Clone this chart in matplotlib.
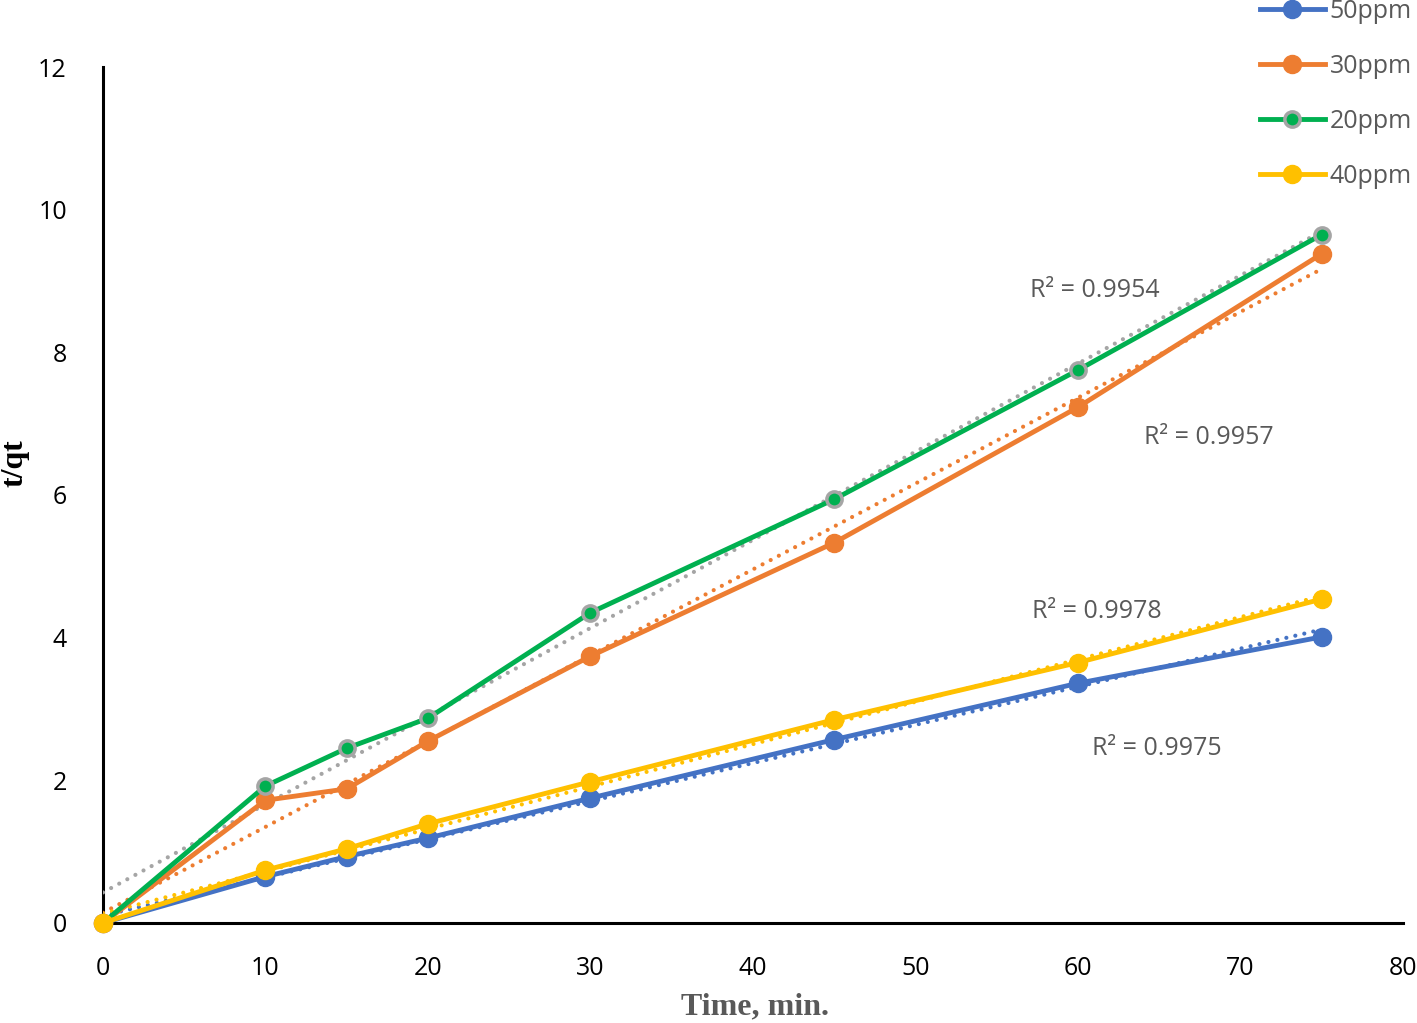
import numpy as np
import matplotlib.pyplot as plt

# Time (min)
time_min = [0, 10, 15, 20, 30, 45, 60, 75]

# t/qt values
tq_50 = [0, 0.65, 0.93, 1.19, 1.75, 2.57, 3.36, 4.01]
tq_30 = [0, 1.72, 1.88, 2.55, 3.74, 5.33, 7.23, 9.38]
tq_20 = [0, 1.92, 2.45, 2.87, 4.35, 5.94, 7.75, 9.65]
tq_40 = [0, 0.74, 1.04, 1.39, 1.98, 2.85, 3.65, 4.54]

r2_labels = ['R² = 0.9975', 'R² = 0.9957', 'R² = 0.9954', 'R² = 0.9978']

blue = '#4472C4'
orange = '#ED7D31'
green = '#00B050'
gray = '#A5A5A5'
yellow = '#FFC000'
text_gray = '#595959'

fig = plt.figure(figsize=(14.17, 10.23), dpi=100)
ax = fig.add_axes([0.0727, 0.0978, 0.9173, 0.8367])

x = np.array(time_min)

# dotted linear trendlines
def trend(y, color):
    k, b = np.polyfit(x, y, 1)
    xx = np.array([0, 75])
    ax.plot(xx, k * xx + b, linestyle=(0, (0.01, 2.2)), dash_capstyle='round',
            color=color, lw=3.0, zorder=3)

trend(tq_50, blue)
trend(tq_30, orange)
trend(tq_20, gray)
trend(tq_40, yellow)

ax.plot(x, tq_50, '-o', color=blue, lw=3.5, ms=13, label='50ppm', zorder=4, clip_on=False)
ax.plot(x, tq_30, '-o', color=orange, lw=3.5, ms=13, label='30ppm', zorder=4, clip_on=False)
ax.plot(x, tq_20, '-o', color=green, lw=3.5, ms=11, mfc=green, mec=gray, mew=2.5,
        label='20ppm', zorder=4, clip_on=False)
ax.plot(x, tq_40, '-o', color=yellow, lw=3.5, ms=13, label='40ppm', zorder=4, clip_on=False)

# R² annotations
fs = 18
ax.text(60.9, 2.44, r2_labels[0], fontsize=fs, color=text_gray, family='Open Sans', va='center')
ax.text(64.1, 6.81, r2_labels[1], fontsize=fs, color=text_gray, family='Open Sans', va='center')
ax.text(57.05, 8.87, r2_labels[2], fontsize=fs, color=text_gray, family='Open Sans', va='center')
ax.text(57.2, 4.37, r2_labels[3], fontsize=fs, color=text_gray, family='Open Sans', va='center')

ax.set_xlim(0, 80)
ax.set_ylim(0, 12)
ax.set_xticks(range(0, 81, 10))
ax.set_yticks(range(0, 13, 2))
ax.tick_params(length=0, labelsize=18)
ax.tick_params(axis='x', pad=24)
ax.tick_params(axis='y', pad=26)
for lab in ax.get_xticklabels() + ax.get_yticklabels():
    lab.set_family('Open Sans')

for s in ['top', 'right']:
    ax.spines[s].set_visible(False)
for s in ['left', 'bottom']:
    ax.spines[s].set_linewidth(2.2)
    ax.spines[s].set_color('black')

fig.text(755 / 1417, 1 - 1007 / 1023, 'Time, min.', fontsize=23, fontweight='bold',
         family='Liberation Serif', color=text_gray, ha='center', va='center')
fig.text(15 / 1417, 1 - 463 / 1023, 't/qt', rotation=90, fontsize=23, fontweight='bold',
         family='Liberation Serif', color='black', ha='center', va='center')

leg = fig.legend(loc='upper left', bbox_to_anchor=(0.889, 1.001), frameon=False,
                 prop={'family': 'Open Sans', 'size': 18}, borderpad=0, borderaxespad=0,
                 handlelength=2.6, handletextpad=0.2, labelspacing=1.2)
for t in leg.get_texts():
    t.set_color(text_gray)

fig.savefig('out.png', dpi=100)
